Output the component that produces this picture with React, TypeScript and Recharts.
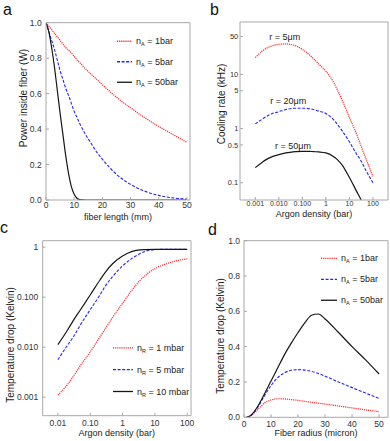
import React from 'react';
import { LineChart, Line, XAxis, YAxis, Legend, ReferenceDot } from 'recharts';

// ---- panel a: power vs fiber length ----
const fiberLength = [0, 1, 2, 3, 4, 5, 6, 7, 8, 9, 10, 11, 12, 14, 16, 18, 20, 25, 30, 35, 40, 45, 50];
const power1bar = [1, 0.98, 0.96, 0.94, 0.92, 0.9, 0.88, 0.86, 0.845, 0.83, 0.81, 0.79, 0.775, 0.74, 0.71, 0.68, 0.65, 0.58, 0.52, 0.465, 0.415, 0.37, 0.325];
const power5bar = [1, 0.95, 0.9, 0.85, 0.79, 0.73, 0.68, 0.63, 0.59, 0.545, 0.5, 0.465, 0.43, 0.37, 0.32, 0.27, 0.23, 0.145, 0.088, 0.05, 0.026, 0.012, 0.005];
const power50bar = [1, 0.95, 0.86, 0.75, 0.62, 0.49, 0.37, 0.25, 0.15, 0.075, 0.032, 0.01, 0.002, 0, 0, 0, 0, 0, 0, 0, 0, 0, 0];
const lengthTicks = [0, 10, 20, 30, 40, 50];
const powerTicks = [0, 0.2, 0.4, 0.6, 0.8, 1];
const powerTickLabels = ['0.0', '0.2', '0.4', '0.6', '0.8', '1.0'];

// ---- panel b: cooling rate vs argon density ----
const argonB = [0.001, 0.002, 0.003, 0.005, 0.01, 0.02, 0.03, 0.05, 0.1, 0.2, 0.3, 0.5, 1, 2, 3, 5, 10, 20, 30, 50, 100];
const rate5um = [20.5, 27, 30.5, 33.5, 36, 36.6, 36, 34, 29, 23, 19.5, 15.5, 11.5, 7.5, 5.3, 3.3, 1.6, 0.8, 0.5, 0.28, 0.13];
const rate20um = [1.22, 1.5, 1.68, 1.88, 2.05, 2.25, 2.33, 2.38, 2.38, 2.33, 2.25, 2.1, 1.9, 1.5, 1.22, 0.9, 0.57, 0.34, 0.26, 0.17, 0.1];
const rate50um = [0.19, 0.24, 0.27, 0.3, 0.33, 0.355, 0.365, 0.375, 0.38, 0.38, 0.375, 0.37, 0.355, 0.31, 0.27, 0.21, 0.125, 0.07, 0.05, 0.03, 0.013];
const argonBTicks = [0.001, 0.01, 0.1, 1, 10, 100];
const argonBTickLabels = ['0.001', '0.010', '0.100', '1', '10', '100'];
const rateTicks = [0.1, 0.5, 1, 5, 10, 50];
const rateTickLabels = ['0.1', '0.5', '1', '5', '10', '50'];
const rateNotes = [
  { text: 'r = 5μm', x: 0.018, y: 36.6, offset: 4 },
  { text: 'r = 20μm', x: 0.025, y: 2.33, offset: 4.5 },
  { text: 'r = 50μm', x: 0.04, y: 0.375, offset: 3 },
];

// ---- panel c: temperature drop vs argon density ----
const argonC = [0.01, 0.02, 0.03, 0.05, 0.1, 0.2, 0.3, 0.5, 1, 2, 3, 5, 10, 20, 30, 50, 100];
const drop1mbar = [0.0011, 0.0018, 0.0026, 0.0043, 0.008, 0.016, 0.024, 0.04, 0.075, 0.14, 0.195, 0.27, 0.37, 0.45, 0.49, 0.54, 0.58];
const drop5mbar = [0.0056, 0.011, 0.016, 0.028, 0.056, 0.11, 0.17, 0.26, 0.42, 0.6, 0.7, 0.82, 0.89, 0.9, 0.9, 0.9, 0.9];
const drop10mbar = [0.0112, 0.022, 0.034, 0.056, 0.11, 0.22, 0.32, 0.47, 0.66, 0.82, 0.87, 0.89, 0.9, 0.9, 0.9, 0.9, 0.9];
const argonCTicks = [0.01, 0.1, 1, 10, 100];
const argonCTickLabels = ['0.01', '0.10', '1', '10', '100'];
const dropCTicks = [0.001, 0.01, 0.1, 1];
const dropCTickLabels = ['0.001', '0.010', '0.100', '1'];

// ---- panel d: temperature drop vs fiber radius ----
const fiberRadius = [1, 2.5, 5, 7.5, 10, 12.5, 15, 17.5, 20, 22.5, 25, 27.5, 30, 35, 40, 45, 50];
const dropD1bar = [0, 0.01, 0.043, 0.08, 0.098, 0.105, 0.104, 0.1, 0.096, 0.09, 0.085, 0.08, 0.075, 0.064, 0.053, 0.042, 0.032];
const dropD5bar = [0, 0.01, 0.055, 0.12, 0.18, 0.225, 0.252, 0.266, 0.27, 0.267, 0.26, 0.248, 0.233, 0.2, 0.168, 0.137, 0.107];
const dropD50bar = [0, 0.01, 0.06, 0.13, 0.205, 0.28, 0.355, 0.42, 0.48, 0.535, 0.578, 0.585, 0.557, 0.48, 0.4, 0.325, 0.245];
const radiusTicks = [0, 10, 20, 30, 40, 50];
const dropDTicks = [0, 0.2, 0.4, 0.6, 0.8, 1];
const dropDTickLabels = ['0.0', '0.2', '0.4', '0.6', '0.8', '1.0'];

const powerRows = fiberLength.map((x, i) => ({ x, a: power1bar[i], b: power5bar[i], c: power50bar[i] }));
const rateRows = argonB.map((x, i) => ({ x, a: rate5um[i], b: rate20um[i], c: rate50um[i] }));
const dropCRows = argonC.map((x, i) => ({ x, a: drop1mbar[i], b: drop5mbar[i], c: drop10mbar[i] }));
const dropDRows = fiberRadius.map((x, i) => ({ x, a: dropD1bar[i], b: dropD5bar[i], c: dropD50bar[i] }));

const FONT = '"Liberation Sans", Arial, sans-serif';
const FRAME = '#a8a8a8';
const RED = '#ff2a2a';
const BLUE = '#2424ff';
const BLACK = '#161616';

const labelsFor = (ticks: number[], labels: string[]) => (v: number) => {
  const i = ticks.indexOf(v);
  return i >= 0 ? labels[i] : String(v);
};

const tickText = (size: number) => ({ fontSize: size, fill: '#333', fontFamily: FONT });

// inward ticks, Mathematica-style frame
const axisBase = {
  axisLine: { stroke: FRAME },
  tickLine: { stroke: FRAME },
  tickSize: -3,
  allowDataOverflow: true,
};

const xTitle = (text: string, dy: number) => (props: any) => {
  const vb = props.viewBox || { x: 0, y: 0, width: 0 };
  return (
    <text x={vb.x + vb.width / 2} y={vb.y + dy} textAnchor="middle" fontSize={9} fill="#222" fontFamily={FONT}>
      {text}
    </text>
  );
};

const yTitle = (text: string, x: number, cy: number) => () => (
  <text x={x} y={cy} transform={`rotate(-90 ${x} ${cy})`} textAnchor="middle" fontSize={10} fill="#222" fontFamily={FONT}>
    {text}
  </text>
);

const legendContent = (sub: string, rowH: number, lineW: number) => (props: any) => {
  const items = props.payload || [];
  return (
    <svg width={95} height={rowH * items.length} style={{ display: 'block', overflow: 'visible' }}>
      {items.map((it: any, i: number) => {
        const y = rowH * i + rowH / 2;
        return (
          <g key={it.value}>
            <line x1={0} x2={lineW} y1={y} y2={y} stroke={it.color} strokeWidth={1.3}
              strokeDasharray={it.payload ? it.payload.strokeDasharray : undefined} />
            <text x={lineW + 4} y={y + 3} fontSize={9} fill="#222" fontFamily={FONT}>
              n<tspan fontSize={5.5} dy={2}>{sub}</tspan>
              <tspan dy={-2}>{' = ' + it.value}</tspan>
            </text>
          </g>
        );
      })}
    </svg>
  );
};

const lines = (names: string[]) => [
  <Line key="a" dataKey="a" name={names[0]} type="monotone" stroke={RED} strokeWidth={1.2} strokeDasharray="1.2 0.9" dot={false} isAnimationActive={false} />,
  <Line key="b" dataKey="b" name={names[1]} type="monotone" stroke={BLUE} strokeWidth={1.1} strokeDasharray="3 1.6" dot={false} isAnimationActive={false} />,
  <Line key="c" dataKey="c" name={names[2]} type="monotone" stroke={BLACK} strokeWidth={1.2} dot={false} isAnimationActive={false} />,
];

const PanelA = () => (
  <LineChart width={195} height={226} data={powerRows} margin={{ top: 21.7, right: 4, bottom: 0, left: 0 }}>
    <XAxis {...axisBase} dataKey="x" type="number" domain={[0, 51.1]} ticks={lengthTicks} height={26}
      tickMargin={5} tick={tickText(8.5)} label={xTitle('fiber length (mm)', 19.7)} />
    <XAxis {...axisBase} xAxisId="top" orientation="top" dataKey="x" type="number" domain={[0, 51.1]}
      ticks={lengthTicks} height={1} tick={false} />
    <YAxis {...axisBase} type="number" domain={[0, 1]} ticks={powerTicks} width={46} tickMargin={7.3}
      tick={tickText(8.5)} tickFormatter={labelsFor(powerTicks, powerTickLabels)}
      label={yTitle('Power inside fiber (W)', 26.8, 98)} />
    <YAxis {...axisBase} yAxisId="right" orientation="right" type="number" domain={[0, 1]} ticks={powerTicks}
      width={1} tick={false} />
    <Legend layout="vertical" align="center" verticalAlign="middle" itemSorter="dataKey"
      wrapperStyle={{ left: 117, top: 30.7, width: 95 }} content={legendContent('A', 20.5, 15)} />
    {lines(['1bar', '5bar', '50bar'])}
  </LineChart>
);

const PanelB = () => (
  <LineChart width={195} height={226} data={rateRows} margin={{ top: 21, right: 1, bottom: 0, left: 0 }}>
    <XAxis {...axisBase} dataKey="x" type="number" scale="log" domain={[0.000224, 436]} ticks={argonBTicks}
      height={26} tickMargin={4.1} tick={tickText(7)} interval={0}
      tickFormatter={labelsFor(argonBTicks, argonBTickLabels)} label={xTitle('Argon density (bar)', 17.3)} />
    <XAxis {...axisBase} xAxisId="top" orientation="top" dataKey="x" type="number" scale="log"
      domain={[0.000224, 436]} ticks={argonBTicks} height={1} tick={false} />
    <YAxis {...axisBase} type="number" scale="log" domain={[0.048, 93]} ticks={rateTicks} width={45}
      tickMargin={4.7} tick={tickText(7.5)} interval={0} tickFormatter={labelsFor(rateTicks, rateTickLabels)}
      label={yTitle('Cooling rate (kHz)', 30.2, 104)} />
    <YAxis {...axisBase} yAxisId="right" orientation="right" type="number" scale="log" domain={[0.048, 93]}
      ticks={rateTicks} width={1} tick={false} />
    {lines(['5μm', '20μm', '50μm'])}
    {rateNotes.map((n) => (
      <ReferenceDot key={n.text} x={n.x} y={n.y} r={0} fill="none" stroke="none"
        label={{ value: n.text, position: 'top', offset: n.offset, fontSize: 9, fill: '#222', fontFamily: FONT }} />
    ))}
  </LineChart>
);

const PanelC = () => (
  <LineChart width={195} height={221} data={dropCRows} margin={{ top: 19.7, right: 3, bottom: 0, left: 0 }}>
    <XAxis {...axisBase} dataKey="x" type="number" scale="log" domain={[0.0034, 131]} ticks={argonCTicks}
      height={25.3} tickMargin={7.1} tick={tickText(8.5)} interval={0}
      tickFormatter={labelsFor(argonCTicks, argonCTickLabels)} label={xTitle('Argon density (bar)', 20.3)} />
    <XAxis {...axisBase} xAxisId="top" orientation="top" dataKey="x" type="number" scale="log"
      domain={[0.0034, 131]} ticks={argonCTicks} height={1} tick={false} />
    <YAxis {...axisBase} type="number" scale="log" domain={[0.000427, 1.34]} ticks={dropCTicks} width={42.7}
      tickMargin={7.4} tick={tickText(8.5)} interval={0} tickFormatter={labelsFor(dropCTicks, dropCTickLabels)}
      label={yTitle('Temperature drop (Kelvin)', 13.5, 125)} />
    <YAxis {...axisBase} yAxisId="right" orientation="right" type="number" scale="log"
      domain={[0.000427, 1.34]} ticks={dropCTicks} width={1} tick={false} />
    <Legend layout="vertical" align="center" verticalAlign="middle" itemSorter="dataKey"
      wrapperStyle={{ left: 113, top: 116.8, width: 95 }} content={legendContent('R', 21.8, 20)} />
    {lines(['1 mbar', '5 mbar', '10 mbar'])}
  </LineChart>
);

const PanelD = () => (
  <LineChart width={195} height={221} data={dropDRows} margin={{ top: 19.7, right: 1, bottom: 0, left: 0 }}>
    <XAxis {...axisBase} dataKey="x" type="number" domain={[0, 53.3]} ticks={radiusTicks} height={23.7}
      tickMargin={6.5} tick={tickText(8.5)} label={xTitle('Fiber radius (micron)', 18.7)} />
    <XAxis {...axisBase} xAxisId="top" orientation="top" dataKey="x" type="number" domain={[0, 53.3]}
      ticks={radiusTicks} height={1} tick={false} />
    <YAxis {...axisBase} type="number" domain={[0, 1]} ticks={dropDTicks} width={49} tickMargin={7}
      tick={tickText(8.5)} tickFormatter={labelsFor(dropDTicks, dropDTickLabels)}
      label={yTitle('Temperature drop (Kelvin)', 28.5, 116)} />
    <YAxis {...axisBase} yAxisId="right" orientation="right" type="number" domain={[0, 1]} ticks={dropDTicks}
      width={1} tick={false} />
    <Legend layout="vertical" align="center" verticalAlign="middle" itemSorter="dataKey"
      wrapperStyle={{ left: 126, top: 27.5, width: 95 }} content={legendContent('A', 20.9, 16)} />
    {lines(['1bar', '5bar', '50bar'])}
  </LineChart>
);

const panelLetters = [
  { t: 'a', x: 3, y: 15 },
  { t: 'b', x: 210, y: 15 },
  { t: 'c', x: 0, y: 233 },
  { t: 'd', x: 208, y: 235 },
];

export default function App() {
  return (
    <div style={{ position: 'absolute', left: 0, top: 0, width: 390, height: 441, background: '#fff', overflow: 'hidden' }}>
      <div style={{ position: 'absolute', left: 0, top: 0 }}><PanelA /></div>
      <div style={{ position: 'absolute', left: 195, top: 0 }}><PanelB /></div>
      <div style={{ position: 'absolute', left: 0, top: 220 }}><PanelC /></div>
      <div style={{ position: 'absolute', left: 195, top: 220 }}><PanelD /></div>
      <svg width={390} height={441} style={{ position: 'absolute', left: 0, top: 0, pointerEvents: 'none' }}>
        {panelLetters.map((l) => (
          <text key={l.t} x={l.x} y={l.y} fontSize={16} fill="#111" fontFamily={FONT}>{l.t}</text>
        ))}
      </svg>
    </div>
  );
}
